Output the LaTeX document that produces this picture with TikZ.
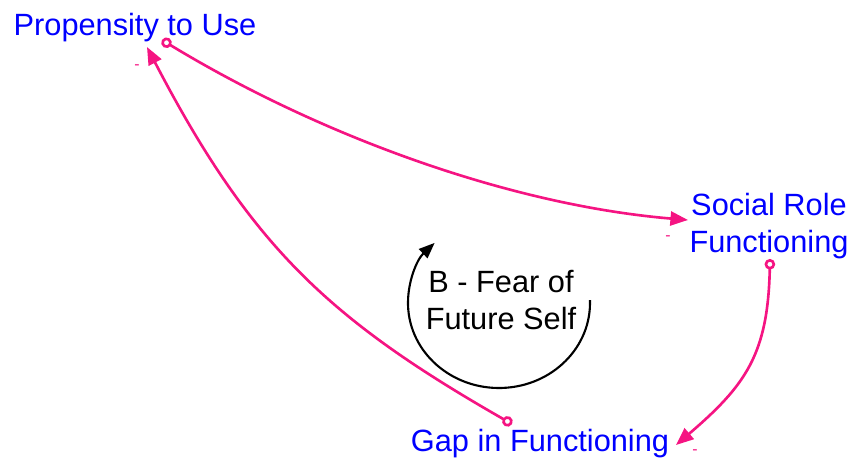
\documentclass[tikz,border=0pt]{standalone}
\usepackage{fontspec}
\setmainfont{Liberation Sans}
\usetikzlibrary{arrows.meta,calc}
\definecolor{linkpink}{RGB}{245,20,130}
\definecolor{varblue}{RGB}{0,0,255}
\tikzset{
  var/.style={text=varblue, font=\fontsize{17.5}{21}\selectfont, inner sep=0pt, align=center},
  looplabel/.style={text=black, font=\fontsize{17.5}{21}\selectfont, inner sep=0pt, align=center},
  link/.style={draw=linkpink, line width=1.5pt,
    {Circle[open,length=6pt,width=6pt,fill=white]}-{Triangle[length=10pt,width=8pt]}},
  pol/.style={text=linkpink, font=\fontsize{9}{10}\selectfont, inner sep=0pt},
  loopline/.style={draw=black, line width=1.2pt, -{Triangle[length=9pt,width=7pt]}}
}
\begin{document}
\begin{tikzpicture}[x=0.02cm,y=0.02cm]
\useasboundingbox (0,0) rectangle (850,461);
% variables
\node[var, anchor=base] (pu) at (135,426) {Propensity to Use};
\node[var] (srf) at (769,235) {Social Role\\Functioning};
\node[var, anchor=base] (gap) at (540,10) {Gap in Functioning};
\node[looplabel] (loop) at (501,161) {B - Fear of\\Future Self};
% link end points
\coordinate (pu-out) at (162,421);
\coordinate (pu-in) at (147,414);
\coordinate (srf-in) at (688,241);
\coordinate (srf-out) at (770,202);
\coordinate (gap-in) at (676,16);
\coordinate (gap-out) at (512,37);
% links
\draw[link] (pu-out) .. controls (320,325) and (510,256) .. (srf-in);
\draw[link] (srf-out) .. controls (768,107) and (746,76) .. (gap-in);
\draw[link] (gap-out) .. controls (330,141) and (251,214) .. (pu-in);
% polarities
\node[pol] (p1) at (137,394) {-};
\node[pol] (p2) at (668,223) {-};
\node[pol] (p3) at (695,9) {-};
% loop arrow
\coordinate (lc) at (499,158);
\draw[loopline] ($(lc)+(2:91 and 85)$) arc[start angle=2, end angle=-225, x radius=91, y radius=85];
\end{tikzpicture}
\end{document}
